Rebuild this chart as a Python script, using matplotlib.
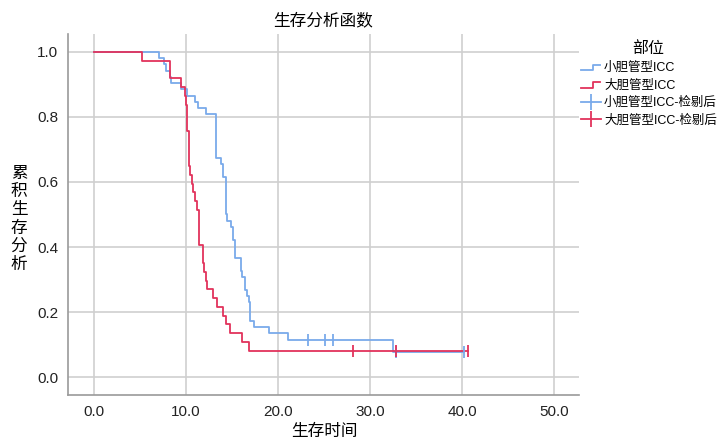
import matplotlib
matplotlib.use("Agg")
import matplotlib.pyplot as plt
from matplotlib.lines import Line2D
from matplotlib.legend_handler import HandlerBase
import numpy as np

plt.rcParams['font.family'] = ['Liberation Sans', 'Noto Sans CJK SC', 'DejaVu Sans']

# ---- data ----
small_times = [0.0, 7.07, 7.6, 7.8, 8.2, 8.4, 9.5, 10.1, 11.0, 11.3, 12.15, 13.3, 13.8, 14.0,
               14.3, 14.42, 14.88, 15.05, 15.15, 15.33, 15.98, 16.1, 16.4, 16.6, 16.85, 17.0,
               17.35, 19.0, 21.1, 32.5]
small_surv = [1.0, 0.981, 0.962, 0.942, 0.923, 0.904, 0.885, 0.865, 0.846, 0.827, 0.808, 0.673,
              0.654, 0.615, 0.500, 0.481, 0.462, 0.442, 0.423, 0.365, 0.327, 0.308, 0.269,
              0.250, 0.231, 0.173, 0.154, 0.135, 0.115, 0.077]
small_end = 40.2
small_cens = [23.2, 25.1, 26.0, 32.8, 40.2]

large_times = [0.0, 5.2, 8.3, 9.5, 9.9, 10.0, 10.15, 10.3, 10.45, 10.6, 10.8, 11.0, 11.2, 11.4,
               11.8, 12.0, 12.15, 12.3, 12.95, 13.4, 14.05, 14.35, 14.8, 16.05, 16.85]
large_surv = [1.0, 0.973, 0.919, 0.892, 0.865, 0.838, 0.757, 0.649, 0.622, 0.595, 0.568, 0.541,
              0.514, 0.405, 0.351, 0.324, 0.297, 0.270, 0.243, 0.216, 0.189, 0.162, 0.135,
              0.108, 0.081]
large_end = 40.6
large_cens = [28.1, 32.8, 40.6]

labels = ['小胆管型ICC', '大胆管型ICC', '小胆管型ICC-检剔后', '大胆管型ICC-检剔后']
xticks = [0, 10, 20, 30, 40, 50]
yticks = [0.0, 0.2, 0.4, 0.6, 0.8, 1.0]

blue = '#7aaaea'
red = '#e2335c'

fig = plt.figure(figsize=(7.19, 4.40), dpi=100)
ax = fig.add_axes([68/719, 1-395/440, (579-68)/719, (395-34)/440])

def surv_at(times, surv, t):
    idx = np.searchsorted(times, t, side='right') - 1
    return surv[idx]

for times, surv, end, cens, col in [(small_times, small_surv, small_end, small_cens, blue),
                                    (large_times, large_surv, large_end, large_cens, red)]:
    xs = list(times) + [end]
    ys = list(surv) + [surv[-1]]
    ax.step(xs, ys, where='post', color=col, lw=1.3, zorder=3)
    cy = [surv_at(times, surv, c) for c in cens]
    ax.plot(cens, cy, ls='none', marker='|', ms=9, mew=1.3, color=col, zorder=4)

ax.set_xlim(-2.83, 52.7)
ax.set_ylim(-0.055, 1.055)
ax.set_xticks(xticks)
ax.set_xticklabels([f'{v:.1f}' for v in xticks])
ax.set_yticks(yticks)
ax.set_yticklabels([f'{v:.1f}' for v in yticks])
ax.tick_params(length=0, labelsize=11, pad=7, colors='#222222')
ax.grid(True, color='#cfcfcf', lw=1.2)
ax.set_axisbelow(True)
for s in ['top', 'right']:
    ax.spines[s].set_visible(False)
for s in ['left', 'bottom']:
    ax.spines[s].set_color('#9a9a9a')
    ax.spines[s].set_linewidth(1.2)

ax.set_title('生存分析函数', fontsize=12, pad=6, family=['Noto Sans CJK SC'])
fig.text(324/719, 1-431/440, '生存时间', fontsize=12, ha='center', va='center',
         family=['Noto Sans CJK SC'])
fig.text(19/719, 1-219/440, '\n'.join('累积生存分析'), fontsize=12, ha='center', va='center',
         linespacing=1.08, family=['Noto Sans CJK SC'])

class StepHandler(HandlerBase):
    def create_artists(self, legend, orig_handle, xdescent, ydescent, width, height, fontsize, trans):
        x0, x1 = -xdescent, -xdescent + width
        yl, yh = -ydescent + height * 0.1, -ydescent + height * 0.75
        xm = x0 + width * 0.6
        l = Line2D([x0, xm, xm, x1 * 0.95], [yl, yl, yh, yh], color=orig_handle.get_color(),
                   lw=1.3, transform=trans)
        return [l]

h1 = Line2D([], [], color=blue)
h2 = Line2D([], [], color=red)
h3 = Line2D([], [], color=blue, lw=1.3, marker='|', ms=11, mew=1.3)
h4 = Line2D([], [], color=red, lw=1.3, marker='|', ms=11, mew=1.3)
leg = fig.legend([h1, h2, h3, h4], labels, loc='upper left', bbox_to_anchor=(581/719, 1-62/440),
                 frameon=False, handlelength=1.6, handletextpad=0.25,
                 labelspacing=0.42, borderaxespad=0, borderpad=0,
                 handler_map={h1: StepHandler(), h2: StepHandler()},
                 prop={'family': ['Liberation Sans', 'Noto Sans CJK SC'], 'size': 9})
fig.text(648/719, 1-48/440, '部位', fontsize=11.5, ha='center', va='center',
         family=['Noto Sans CJK SC'])

fig.savefig('out.png', dpi=100)
